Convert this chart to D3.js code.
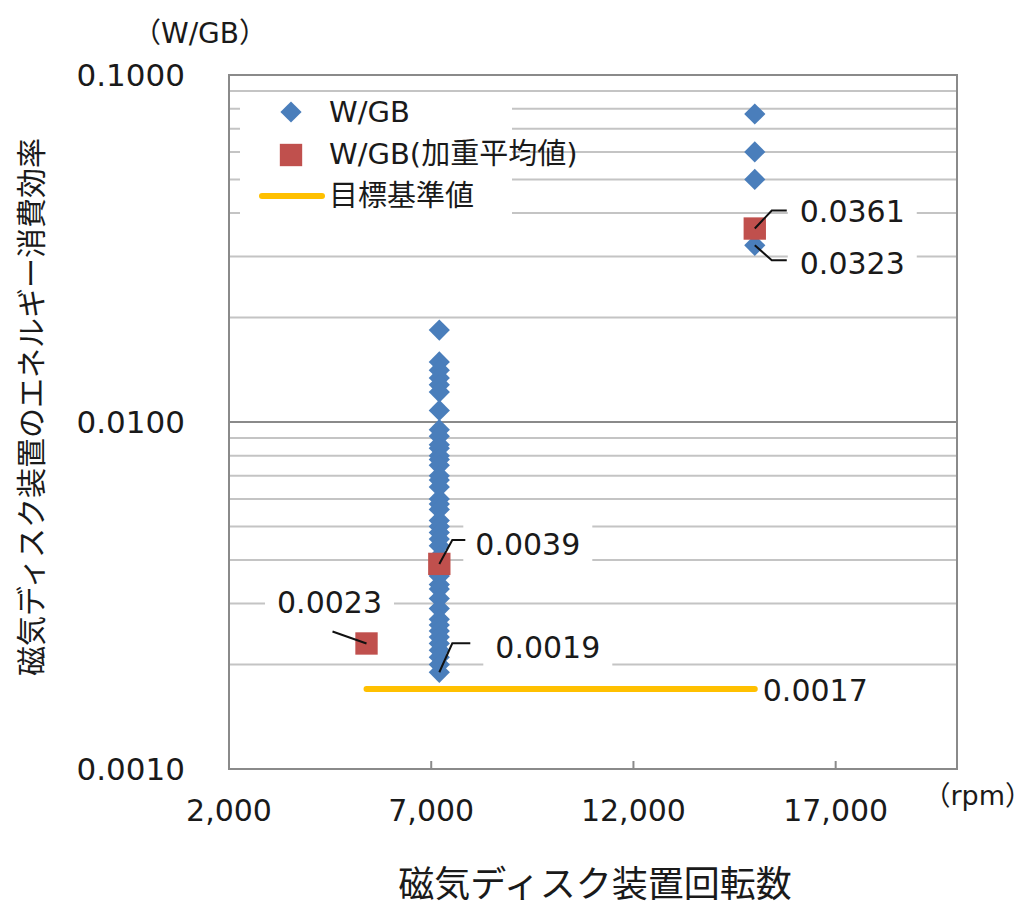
<!DOCTYPE html>
<html>
<head>
<meta charset="utf-8">
<script src="https://cdn.jsdelivr.net/npm/d3@7"></script>
<style>
  body { margin: 0; background: #fff; }
  svg text { font-family: "DejaVu Sans", "Noto Sans CJK JP", sans-serif; fill: #1a1a1a; }
</style>
</head>
<body>
<svg id="chart" width="1034" height="909"></svg>
<script>
// rotation speeds and W/GB readings
const diskRpm = [7200, 15000];
const wgbValues = [
  [0.0184, 0.0149, 0.0141, 0.0134, 0.0128, 0.0122, 0.0108, 0.0095, 0.0091, 0.0086,
   0.0084, 0.0080, 0.0078, 0.0075, 0.0070, 0.0068, 0.0065, 0.0060, 0.0058, 0.0056,
   0.0052, 0.0050, 0.0048, 0.0046, 0.0044, 0.0041, 0.0038, 0.0036, 0.0034, 0.0033,
   0.0031, 0.0029, 0.0027, 0.0026, 0.0025, 0.0024, 0.0023, 0.0022, 0.0021, 0.0020,
   0.0019],
  [0.0772, 0.0600, 0.0500, 0.0323]
];
const avgRpm = [5400, 7200, 15000];
const avgWgb = [0.0023, 0.0039, 0.0361];
const targetRpm = [5400, 15000];
const targetWgb = 0.0017;

const xTicks = [2000, 7000, 12000, 17000];
const yTicks = [0.001, 0.01, 0.1];
const legendNames = ["W/GB", "W/GB(加重平均値)", "目標基準値"];

const blue = "#4a7ebb", red = "#c0504d", gold = "#ffc000";

const svg = d3.select("#chart");
const x = d3.scaleLinear().domain([2000, 20000]).range([229, 957]);
const y = d3.scaleLog().domain([0.001, 0.1]).range([769, 75]);

// flatten point series
const points = [];
diskRpm.forEach((r, i) => wgbValues[i].forEach(v => points.push({rpm: r, v: v})));
const avgPoints = avgRpm.map((r, i) => ({rpm: r, v: avgWgb[i]}));

// gridlines (log minors)
const minor = [];
for (let d = 0.001; d < 0.1; d *= 10) {
  for (let k = 2; k <= 9; k++) minor.push(+(d * k).toFixed(4));
}
svg.append("g").selectAll("line").data(minor).enter().append("line")
  .attr("x1", x(2000)).attr("x2", x(20000))
  .attr("y1", d => y(d)).attr("y2", d => y(d))
  .attr("stroke", "#c4c4c4").attr("stroke-width", 2);
svg.append("line")
  .attr("x1", x(2000)).attr("x2", x(20000))
  .attr("y1", y(0.01)).attr("y2", y(0.01))
  .attr("stroke", "#8a8a8a").attr("stroke-width", 2);

// legend background
svg.append("rect").attr("x", 240).attr("y", 93).attr("width", 272).attr("height", 133).attr("fill", "#fff");

// data labels: offsets from the point they describe
const fmt = d3.format(".4f");
const labels = [
  {p: avgPoints[2], lead: [[0, 0], [17, -18], [32, -18]], tx: 45, ty: -17, anchor: "start"},
  {p: {rpm: 15000, v: d3.min(wgbValues[1])}, lead: [[0, 0], [17, 15], [32, 15]], tx: 45, ty: 18, anchor: "start"},
  {p: avgPoints[1], lead: [[0, 0], [13, -24], [26, -24]], tx: 36, ty: -19, anchor: "start"},
  {p: {rpm: 7200, v: d3.min(wgbValues[0])}, lead: [[0, 0], [13, -29], [31, -29]], tx: 56, ty: -25, anchor: "start"},
  {p: avgPoints[0], lead: [[0, 0], [-34, -12]], tx: -37, ty: -41, anchor: "middle"},
  {p: {rpm: 15000, v: targetWgb}, lead: null, tx: 8, ty: 1, anchor: "start"}
];

const lblG = svg.append("g");
labels.forEach(l => {
  const px = x(l.p.rpm), py = y(l.p.v);
  const t = lblG.append("text")
    .attr("x", px + l.tx).attr("y", py + l.ty)
    .attr("dominant-baseline", "central")
    .attr("text-anchor", l.anchor)
    .attr("font-size", 30)
    .text(fmt(l.p.v));
  l.px = px; l.py = py; l.node = t;
});
labels.forEach(l => {
  const b = l.node.node().getBBox();
  lblG.insert("rect", "text")
    .attr("x", b.x - 12).attr("y", b.y - 6)
    .attr("width", b.width + 24).attr("height", b.height + 12)
    .attr("fill", "#fff");
});

// target line
svg.append("line")
  .attr("x1", x(targetRpm[0])).attr("x2", x(targetRpm[1]))
  .attr("y1", y(targetWgb)).attr("y2", y(targetWgb))
  .attr("stroke", gold).attr("stroke-width", 6).attr("stroke-linecap", "round");

// markers
const diamond = d3.symbol().type(d3.symbolSquare).size(225);
const square = d3.symbol().type(d3.symbolSquare).size(500);
svg.append("g").selectAll("path").data(points).enter().append("path")
  .attr("d", diamond)
  .attr("transform", d => `translate(${x(d.rpm)},${y(d.v)}) rotate(45)`)
  .attr("fill", blue);
svg.append("g").selectAll("path").data(avgPoints).enter().append("path")
  .attr("d", square)
  .attr("transform", d => `translate(${x(d.rpm)},${y(d.v)})`)
  .attr("fill", red);

// leader lines
labels.filter(l => l.lead).forEach(l => {
  svg.append("polyline")
    .attr("points", l.lead.map(p => [l.px + p[0], l.py + p[1]].join(",")).join(" "))
    .attr("fill", "none").attr("stroke", "#111").attr("stroke-width", 2);
});

// plot border
svg.append("rect")
  .attr("x", x(2000)).attr("y", y(0.1))
  .attr("width", x(20000) - x(2000)).attr("height", y(0.001) - y(0.1))
  .attr("fill", "none").attr("stroke", "#8a8a8a").attr("stroke-width", 2);

// axes
svg.append("g").selectAll("line").data(xTicks.slice(1)).enter().append("line")
  .attr("x1", d => x(d)).attr("x2", d => x(d))
  .attr("y1", y(0.001)).attr("y2", y(0.001) - 8)
  .attr("stroke", "#8a8a8a").attr("stroke-width", 2);
svg.append("g").selectAll("text").data(xTicks).enter().append("text")
  .attr("x", d => x(d)).attr("y", 821)
  .attr("text-anchor", "middle").attr("font-size", 30)
  .text(d3.format(","));
svg.append("g").selectAll("text").data(yTicks).enter().append("text")
  .attr("x", 185).attr("y", d => y(d))
  .attr("dominant-baseline", "central")
  .attr("text-anchor", "end").attr("font-size", 31)
  .text(d3.format(".4f"));

// units and titles
svg.append("text").attr("x", 200).attr("y", 33).attr("text-anchor", "middle")
  .attr("dominant-baseline", "central").attr("font-size", 28).text("（W/GB）");
svg.append("text").attr("x", 1032).attr("y", 795).attr("text-anchor", "end")
  .attr("dominant-baseline", "central").attr("font-size", 27).text("（rpm）");
svg.append("text").attr("x", 595).attr("y", 884).attr("text-anchor", "middle")
  .attr("dominant-baseline", "central").attr("font-size", 36).text("磁気ディスク装置回転数");
svg.append("text").attr("transform", "translate(31,407) rotate(-90)")
  .attr("text-anchor", "middle").attr("dominant-baseline", "central")
  .attr("font-size", 30).text("磁気ディスク装置のエネルギー消費効率");

// legend
const lg = svg.append("g");
lg.append("path").attr("d", diamond).attr("transform", "translate(291,112) rotate(45)").attr("fill", blue);
lg.append("path").attr("d", square).attr("transform", "translate(291,155)").attr("fill", red);
lg.append("line").attr("x1", 262).attr("x2", 322).attr("y1", 196).attr("y2", 196)
  .attr("stroke", gold).attr("stroke-width", 6).attr("stroke-linecap", "round");
lg.selectAll("text").data(legendNames).enter().append("text")
  .attr("x", 329).attr("y", (d, i) => 112 + i * 42)
  .attr("dominant-baseline", "central").attr("font-size", 29)
  .text(d => d);
</script>
</body>
</html>
